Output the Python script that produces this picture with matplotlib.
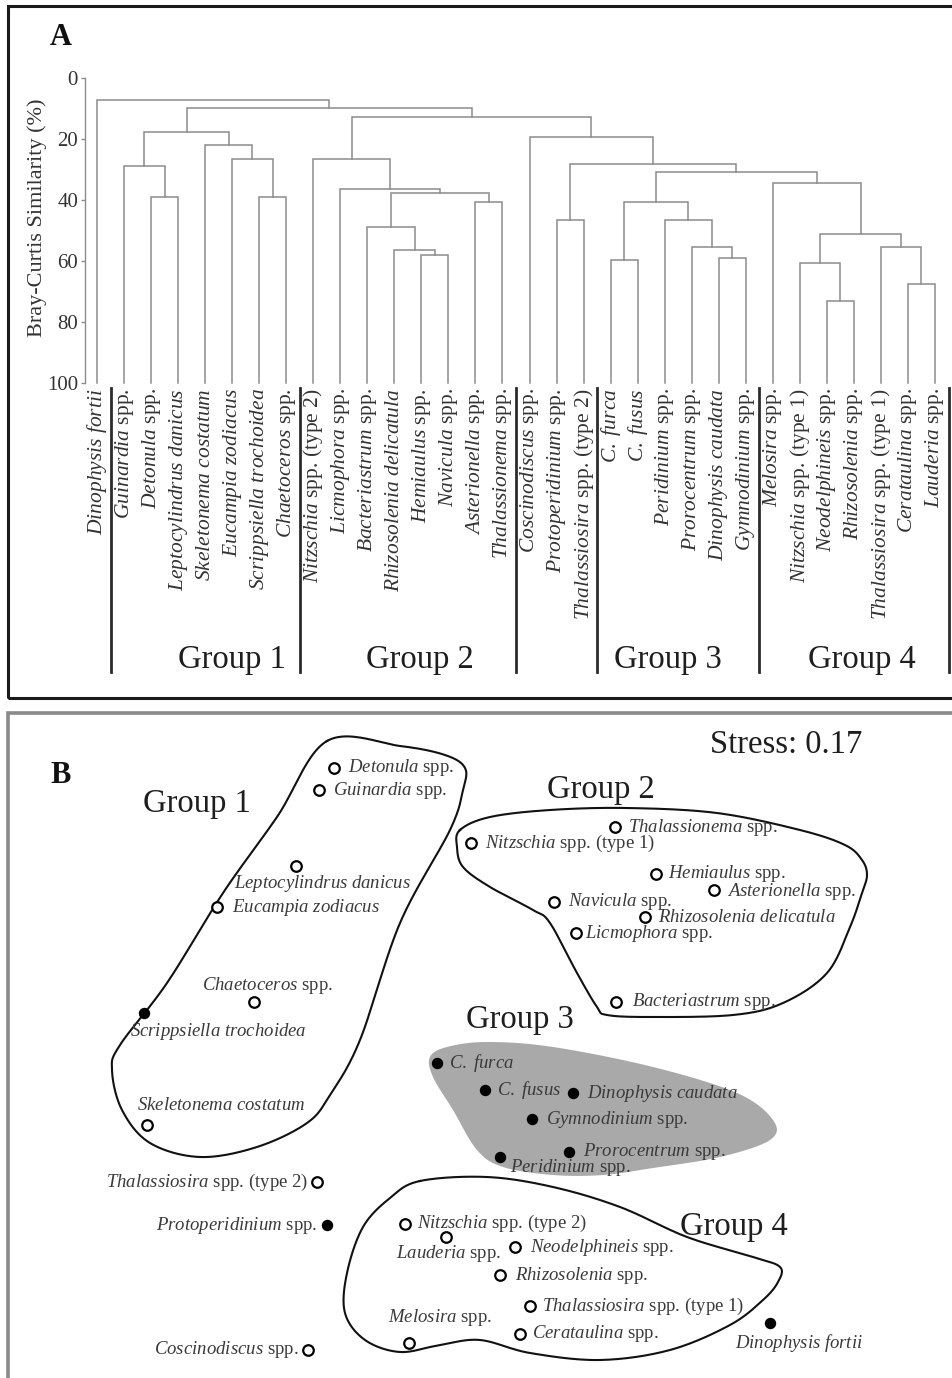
import numpy as np
import matplotlib
matplotlib.use("Agg")
import matplotlib.pyplot as plt
import matplotlib.transforms as mtransforms
from matplotlib.patches import Rectangle, Polygon

plt.rcParams['font.family'] = ['Liberation Serif', 'DejaVu Serif']
plt.rcParams['mathtext.fontset'] = 'custom'
plt.rcParams['mathtext.rm'] = 'Liberation Serif'
plt.rcParams['mathtext.it'] = 'Liberation Serif:italic'
plt.rcParams['mathtext.bf'] = 'Liberation Serif:bold'

# ---------------------------------------------------------------- data
# Leaf order of the Bray-Curtis dendrogram (panel A)
leaves = [
    "Dinophysis fortii", "Guinardia spp.", "Detonula spp.",
    "Leptocylindrus danicus", "Skeletonema costatum", "Eucampia zodiacus",
    "Scrippsiella trochoidea", "Chaetoceros spp.", "Nitzschia spp. (type 2)",
    "Licmophora spp.", "Bacteriastrum spp.", "Rhizosolenia delicatula",
    "Hemiaulus spp.", "Navicula spp.", "Asterionella spp.",
    "Thalassionema spp.", "Coscinodiscus spp.", "Protoperidinium spp.",
    "Thalassiosira spp. (type 2)", "C. furca", "C. fusus", "Peridinium spp.",
    "Prorocentrum spp.", "Dinophysis caudata", "Gymnodinium spp.",
    "Melosira spp.", "Nitzschia spp. (type 1)", "Neodelphineis spp.",
    "Rhizosolenia spp.", "Thalassiosira spp. (type 1)", "Cerataulina spp.",
    "Lauderia spp.",
]

# Agglomeration steps: (node a, node b, similarity %). Nodes 0-31 are
# leaves; step k creates node 32 + k.
merge_a = [2, 6, 1, 5, 4, 34, 12, 11, 10, 14, 40, 9, 8, 17, 19, 23, 22, 21,
           46, 27, 26, 30, 29, 52, 25, 50, 45, 16, 44, 37, 0]
merge_b = [3, 7, 32, 33, 35, 36, 13, 38, 39, 15, 41, 42, 43, 18, 20, 24, 47,
           48, 49, 28, 51, 31, 53, 54, 55, 56, 57, 58, 59, 60, 61]
merge_sim = [39.0, 39.0, 29.0, 26.6, 22.0, 17.7, 58.0, 56.4, 49.0, 40.6,
             37.7, 36.4, 26.6, 46.6, 59.7, 59.0, 55.5, 46.6, 40.6, 73.0,
             60.7, 67.6, 55.5, 51.3, 34.4, 30.8, 28.2, 19.3, 12.8, 9.8, 7.2]

dendro_groups = ["Group 1", "Group 2", "Group 3", "Group 4"]
sim_ticks = [0, 20, 40, 60, 80, 100]

# NMDS ordination (panel B)
species = [
    "Detonula spp.", "Guinardia spp.", "Leptocylindrus danicus",
    "Eucampia zodiacus", "Chaetoceros spp.", "Scrippsiella trochoidea",
    "Skeletonema costatum", "Thalassiosira spp. (type 2)",
    "Protoperidinium spp.", "Coscinodiscus spp.", "Melosira spp.",
    "Nitzschia spp. (type 2)", "Lauderia spp.", "Neodelphineis spp.",
    "Rhizosolenia spp.", "Thalassiosira spp. (type 1)", "Cerataulina spp.",
    "Dinophysis fortii", "C. furca", "C. fusus", "Dinophysis caudata",
    "Gymnodinium spp.", "Prorocentrum spp.", "Peridinium spp.",
    "Thalassionema spp.", "Nitzschia spp. (type 1)", "Hemiaulus spp.",
    "Asterionella spp.", "Navicula spp.", "Rhizosolenia delicatula",
    "Licmophora spp.", "Bacteriastrum spp.",
]
nmds1 = [-1.46, -1.61, -1.84, -2.63, -2.26, -3.36, -3.33, -1.63, -1.53,
         -1.72, -0.71, -0.75, -0.34, 0.35, 0.20, 0.50, 0.40, 2.90, -0.43,
         0.05, 0.93, 0.52, 0.89, 0.20, 1.35, -0.09, 1.76, 2.34, 0.74, 1.65,
         0.96, 1.36]
nmds2 = [2.77, 2.55, 1.79, 1.38, 0.43, 0.32, -0.80, -1.37, -1.80, -3.05,
         -2.98, -1.79, -1.92, -2.02, -2.30, -2.61, -2.89, -2.78, -0.18,
         -0.45, -0.48, -0.74, -1.07, -1.12, 2.18, 2.02, 1.71, 1.55, 1.43,
         1.28, 1.12, 0.43]
dinoflagellate = ["Scrippsiella trochoidea", "Protoperidinium spp.",
                  "Dinophysis fortii", "C. furca", "C. fusus",
                  "Dinophysis caudata", "Gymnodinium spp.",
                  "Prorocentrum spp.", "Peridinium spp."]
stress = 0.17

# Group envelopes in ordination space
group1_x = [-1.53, -0.80, -0.35, -0.15, -0.17, -0.30, -0.80, -1.20, -1.50,
            -1.73, -2.23, -2.80, -3.30, -3.58, -3.68, -3.60, -3.13, -2.57,
            -2.03]
group1_y = [3.04, 2.99, 2.90, 2.77, 2.55, 2.15, 1.22, 0.05, -0.50, -0.78,
            -1.02, -1.12, -0.98, -0.65, -0.25, 0.00, 0.62, 1.52, 2.28]
group2_x = [-0.20, 0.10, 0.70, 1.47, 2.37, 3.20, 3.65, 3.82, 3.87, 3.82,
            3.70, 3.47, 3.03, 2.53, 1.70, 1.27, 1.17, 0.97, 0.70, 0.53,
            0.10, -0.17, -0.23]
group2_y = [2.15, 2.28, 2.35, 2.37, 2.32, 2.15, 2.00, 1.85, 1.70, 1.52,
            1.18, 0.72, 0.42, 0.30, 0.28, 0.30, 0.38, 0.72, 1.22, 1.35,
            1.58, 1.78, 1.98]
group3_x = [-0.50, -0.33, 0.07, 0.73, 1.73, 2.57, 2.93, 2.90, 2.40, 1.73,
            1.23, 0.73, 0.23, -0.03, -0.27, -0.47]
group3_y = [-0.12, -0.02, 0.03, -0.02, -0.22, -0.48, -0.75, -0.95, -1.12,
            -1.23, -1.30, -1.30, -1.22, -1.05, -0.65, -0.32]
group4_x = [-0.60, 0.07, 0.73, 1.40, 2.07, 2.73, 3.00, 2.98, 2.83, 2.50,
            1.90, 1.20, 0.50, 0.00, -0.40, -0.80, -1.15, -1.35, -1.33,
            -1.17, -0.90]
group4_y = [-1.36, -1.32, -1.42, -1.62, -1.92, -2.12, -2.22, -2.37, -2.55,
            -2.80, -3.05, -3.15, -3.08, -2.95, -3.00, -3.07, -2.95, -2.68,
            -2.28, -1.82, -1.53]

# ---------------------------------------------------------------- layout
W, H = 953, 1378
fig = plt.figure(figsize=(W / 100, H / 100), dpi=100)
fig.patch.set_facecolor("white")


def fx(px):
    return px / W


def fy(py):
    return 1 - py / H


def label_tex(name):
    """Italic taxon names, upright 'spp.' and type qualifiers."""
    if " spp." in name:
        genus, rest = name.split(" spp.", 1)
        return r"$\mathit{" + genus.replace(" ", r"\ ") + "}$ spp." + rest
    return r"$\mathit{" + name.replace(" ", r"\ ") + "}$"


TXT = "#333333"
LINE = "#8c8c8c"

# ---------------------------------------------------------------- panel A
fig.add_artist(Rectangle((fx(8), fy(698)), fx(975) - fx(8), fy(6) - fy(698),
                         transform=fig.transFigure, fill=False,
                         edgecolor="#1a1a1a", lw=2.2, clip_on=False))
fig.text(fx(50), fy(45), "A", fontsize=22, fontweight="bold", color="#111111")

axA = fig.add_axes([fx(85), fy(383), fx(950) - fx(85), fy(78) - fy(383)])
n_leaf = len(leaves)
step = (935 - 97) / (n_leaf - 1)
axA.set_xlim(-(97 - 85) / step, n_leaf - 1 + (950 - 935) / step)
axA.set_ylim(100, 0)

pos = {i: float(i) for i in range(n_leaf)}
top = {i: 100.0 for i in range(n_leaf)}
for k, (a, b, s) in enumerate(zip(merge_a, merge_b, merge_sim)):
    node = n_leaf + k
    xa, xb = pos[a], pos[b]
    axA.plot([xa, xa, xb, xb], [top[a], s, s, top[b]], color=LINE, lw=1.1,
             solid_joinstyle="miter", clip_on=False)
    pos[node] = (xa + xb) / 2
    top[node] = s

for side in ("top", "right", "bottom"):
    axA.spines[side].set_visible(False)
axA.spines["left"].set_color(LINE)
axA.spines["left"].set_linewidth(1.0)
axA.set_yticks(sim_ticks)
axA.set_yticklabels([str(t) for t in sim_ticks])
axA.tick_params(axis="y", length=3, width=1, color=LINE, pad=2,
                labelsize=15, labelcolor=TXT)
axA.set_xticks([])
axA.patch.set_alpha(0)

for i, name in enumerate(leaves):
    axA.annotate(label_tex(name), xy=(i, 100), xytext=(0, -5),
                 textcoords="offset pixels", rotation=90, ha="center",
                 va="top", fontsize=15.5, color=TXT, annotation_clip=False)

fig.text(fx(37), fy(218), "Bray-Curtis Similarity (%)", rotation=90,
         ha="center", va="center", fontsize=16, color=TXT)

blend = mtransforms.blended_transform_factory(axA.transData, fig.transFigure)
for xs in (0.5, 7.5, 15.5, 18.5, 24.5, 31.5):
    fig.add_artist(plt.Line2D([xs, xs], [fy(388), fy(672)], transform=blend,
                              color="#2b2b2b", lw=2.0))
for gx, gname in zip((3.0, 9.95, 19.13, 26.3), dendro_groups):
    fig.text(gx, fy(668), gname, transform=blend, ha="left", va="baseline",
             fontsize=23.5, color="#1e1e1e")

# ---------------------------------------------------------------- panel B
fig.add_artist(Rectangle((fx(8), fy(1395)), fx(975) - fx(8),
                         fy(713) - fy(1395), transform=fig.transFigure,
                         fill=False, edgecolor="#8a8a8a", lw=2.6,
                         clip_on=False))
fig.text(fx(50), fy(783), "B", fontsize=22, fontweight="bold",
         color="#111111")

axB = fig.add_axes([fx(8), fy(1378), fx(953) - fx(8), fy(713) - fy(1378)])
axB.set_xlim((8 - 480) / 100, (953 - 480) / 100)
axB.set_ylim((1045 - 1378) / 100, (1045 - 713) / 100)
axB.axis("off")
axB.patch.set_alpha(0)


def closed_spline(xs, ys, n=24):
    P = np.column_stack([xs, ys])
    m = len(P)
    t = np.linspace(0, 1, n, endpoint=False)[:, None]
    segs = []
    for i in range(m):
        p0, p1, p2, p3 = P[i - 1], P[i], P[(i + 1) % m], P[(i + 2) % m]
        segs.append(0.5 * (2 * p1 + (-p0 + p2) * t
                           + (2 * p0 - 5 * p1 + 4 * p2 - p3) * t ** 2
                           + (-p0 + 3 * p1 - 3 * p2 + p3) * t ** 3))
    out = np.vstack(segs)
    return np.vstack([out, out[:1]])


g3 = closed_spline(group3_x, group3_y)
axB.add_patch(Polygon(g3, closed=True, facecolor="#a9a9a9",
                      edgecolor="none", zorder=1))
for gx, gy in ((group1_x, group1_y), (group2_x, group2_y),
               (group4_x, group4_y)):
    c = closed_spline(gx, gy)
    axB.plot(c[:, 0], c[:, 1], color="#111111", lw=1.5, zorder=2)

# label placement around each point: (dx px, dy px, alignment)
label_place = {
    "Detonula spp.": (14, 0, "left"),
    "Guinardia spp.": (14, 0, "left"),
    "Leptocylindrus danicus": (26, -17, "center"),
    "Eucampia zodiacus": (15, 0, "left"),
    "Chaetoceros spp.": (14, 16, "center"),
    "Scrippsiella trochoidea": (-14, -19, "left"),
    "Skeletonema costatum": (-10, 19, "left"),
    "Thalassiosira spp. (type 2)": (-9, 0, "right"),
    "Protoperidinium spp.": (-10, 0, "right"),
    "Coscinodiscus spp.": (-9, 0, "right"),
    "Melosira spp.": (-21, 25, "left"),
    "Nitzschia spp. (type 2)": (12, 1, "left"),
    "Lauderia spp.": (-50, -16, "left"),
    "Neodelphineis spp.": (15, 0, "left"),
    "Rhizosolenia spp.": (15, 0, "left"),
    "Thalassiosira spp. (type 1)": (12, 0, "left"),
    "Cerataulina spp.": (12, 0, "left"),
    "Dinophysis fortii": (-35, -20, "left"),
    "C. furca": (12, 0, "left"),
    "C. fusus": (12, 0, "left"),
    "Dinophysis caudata": (14, 0, "left"),
    "Gymnodinium spp.": (14, 0, "left"),
    "Prorocentrum spp.": (14, 0, "left"),
    "Peridinium spp.": (10, -11, "left"),
    "Thalassionema spp.": (13, 0, "left"),
    "Nitzschia spp. (type 1)": (14, 0, "left"),
    "Hemiaulus spp.": (12, 0, "left"),
    "Asterionella spp.": (13, -1, "left"),
    "Navicula spp.": (14, 0, "left"),
    "Rhizosolenia delicatula": (13, 0, "left"),
    "Licmophora spp.": (9, 0, "left"),
    "Bacteriastrum spp.": (16, 0, "left"),
}

for name, x, y in zip(species, nmds1, nmds2):
    if name in dinoflagellate:
        axB.plot(x, y, "o", ms=7.2, mfc="black", mec="black", zorder=4)
    else:
        axB.plot(x, y, "o", ms=7.6, mfc="white", mec="black", mew=1.6,
                 zorder=4)
    dx, dy, ha = label_place[name]
    axB.annotate(label_tex(name), xy=(x, y), xytext=(dx, dy),
                 textcoords="offset pixels", ha=ha, va="center",
                 fontsize=13.5, color="#3a3a3a", zorder=5)

for (gx, gy), gname in zip(((-3.37, 2.33), (0.67, 2.47), (-0.14, 0.17),
                            (2.00, -1.90)), dendro_groups):
    axB.text(gx, gy, gname, ha="left", va="baseline", fontsize=23.5,
             color="#1e1e1e", zorder=6)

axB.text(2.30, 2.92, f"Stress: {stress:.2f}", ha="left", va="baseline",
         fontsize=23.5, color="#1e1e1e")

fig.savefig("out.png", dpi=100, facecolor="white")
